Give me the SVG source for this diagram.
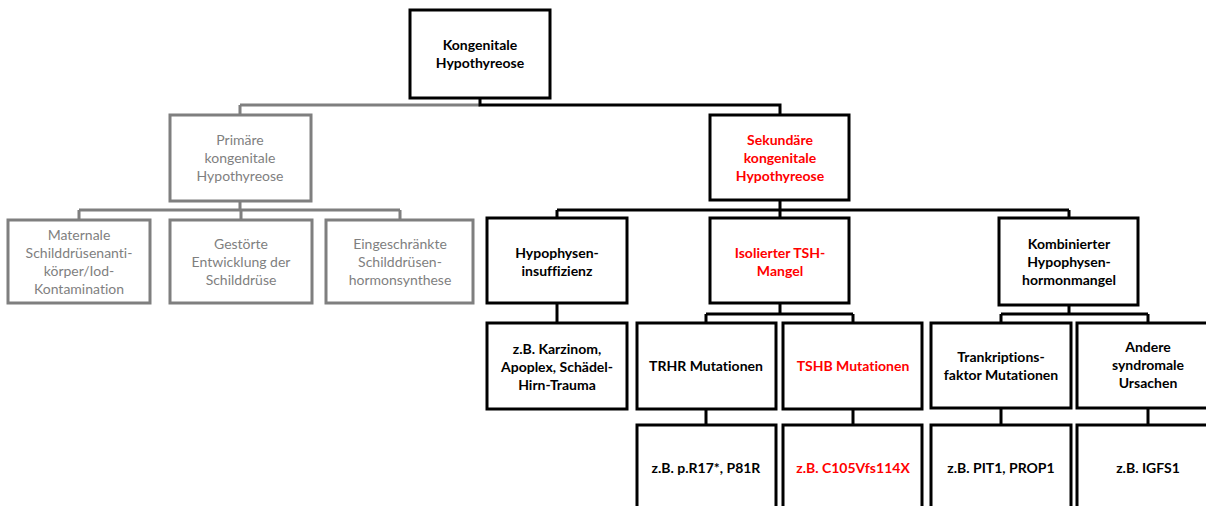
<svg xmlns="http://www.w3.org/2000/svg" width="1206" height="506" viewBox="0 0 1206 506">
  <style>
    .box { fill: #ffffff; stroke: #000000; stroke-width: 3; }
    .box.grey { stroke: #7f7f7f; }
    .lbl { font-family: Lato, "Liberation Sans", sans-serif; font-size: 14px; font-weight: bold; fill: #000000; text-anchor: middle; font-variant-ligatures: none; }
    .lbl.grey { font-weight: normal; fill: #7f7f7f; }
    .lbl.red { fill: #ff0000; }
    .wire { fill: none; stroke: #000000; stroke-width: 3; }
    .wire.grey { stroke: #7f7f7f; }
  </style>
  <rect width="1206" height="506" fill="#ffffff"/>

  <!-- connectors -->
  <g id="connectors">
    <path class="wire grey" d="M240,105 H480 M240,105 V115"/>
    <path class="wire" d="M480,98 V105 H780 V115"/>
    <path class="wire grey" d="M240,201 V210 M79,210 H400 M79,210 V220 M241,210 V220 M400,210 V220"/>
    <path class="wire" d="M780,200 V218 M557,210 H1069 M557,210 V218 M1069,210 V218"/>
    <path class="wire" d="M557,303 V323"/>
    <path class="wire" d="M780,303 V314 M706,314 H853 M706,314 V323 M853,314 V323"/>
    <path class="wire" d="M1069,305 V314 M1001,314 H1148 M1001,314 V323 M1148,314 V323"/>
    <path class="wire" d="M706,409 V425 M853,409 V425 M1001,408 V425 M1148,408 V425"/>
  </g>

  <g id="n-root">
    <rect class="box" x="410" y="10" width="140" height="88"/>
    <text class="lbl" x="480" y="50">Kongenitale</text>
    <text class="lbl" x="480" y="68">Hypothyreose</text>
  </g>

  <g id="n-primaer">
    <rect class="box grey" x="170" y="115" width="141" height="86"/>
    <text class="lbl grey" x="240" y="145">Primäre</text>
    <text class="lbl grey" x="240" y="163">kongenitale</text>
    <text class="lbl grey" x="240" y="181">Hypothyreose</text>
  </g>

  <g id="n-maternal">
    <rect class="box grey" x="8" y="220" width="142" height="83"/>
    <text class="lbl grey" x="79" y="240">Maternale</text>
    <text class="lbl grey" x="79" y="258">Schilddrüsenanti-</text>
    <text class="lbl grey" x="79" y="276">körper/Iod-</text>
    <text class="lbl grey" x="79" y="294">Kontamination</text>
  </g>

  <g id="n-entwicklung">
    <rect class="box grey" x="170" y="220" width="142" height="83"/>
    <text class="lbl grey" x="241" y="249">Gestörte</text>
    <text class="lbl grey" x="241" y="267">Entwicklung der</text>
    <text class="lbl grey" x="241" y="285">Schilddrüse</text>
  </g>

  <g id="n-synthese">
    <rect class="box grey" x="326" y="220" width="147" height="83"/>
    <text class="lbl grey" x="400" y="249">Eingeschränkte</text>
    <text class="lbl grey" x="400" y="267">Schilddrüsen-</text>
    <text class="lbl grey" x="400" y="285">hormonsynthese</text>
  </g>

  <g id="n-sekundaer">
    <rect class="box" x="710" y="115" width="139" height="85"/>
    <text class="lbl red" x="780" y="145">Sekundäre</text>
    <text class="lbl red" x="780" y="163">kongenitale</text>
    <text class="lbl red" x="780" y="181">Hypothyreose</text>
  </g>

  <g id="n-insuffizienz">
    <rect class="box" x="487" y="218" width="140" height="85"/>
    <text class="lbl" x="557" y="258">Hypophysen-</text>
    <text class="lbl" x="557" y="276">insuffizienz</text>
  </g>

  <g id="n-tsh">
    <rect class="box" x="710" y="218" width="139" height="85"/>
    <text class="lbl red" x="780" y="258">Isolierter TSH-</text>
    <text class="lbl red" x="780" y="276">Mangel</text>
  </g>

  <g id="n-kombiniert">
    <rect class="box" x="999" y="218" width="139" height="87"/>
    <text class="lbl" x="1069" y="249">Kombinierter</text>
    <text class="lbl" x="1069" y="267">Hypophysen-</text>
    <text class="lbl" x="1069" y="285">hormonmangel</text>
  </g>

  <g id="n-karzinom">
    <rect class="box" x="487" y="323" width="140" height="86"/>
    <text class="lbl" x="557" y="354">z.B. Karzinom,</text>
    <text class="lbl" x="557" y="372">Apoplex, Schädel-</text>
    <text class="lbl" x="557" y="390">Hirn-Trauma</text>
  </g>

  <g id="n-trhr">
    <rect class="box" x="637" y="323" width="139" height="86"/>
    <text class="lbl" x="706" y="371">TRHR Mutationen</text>
  </g>

  <g id="n-tshb">
    <rect class="box" x="783" y="323" width="139" height="86"/>
    <text class="lbl red" x="853" y="371">TSHB Mutationen</text>
  </g>

  <g id="n-transkription">
    <rect class="box" x="931" y="323" width="140" height="85"/>
    <text class="lbl" x="1001" y="362">Trankriptions-</text>
    <text class="lbl" x="1001" y="380">faktor Mutationen</text>
  </g>

  <g id="n-syndromal">
    <rect class="box" x="1077" y="323" width="142" height="85"/>
    <text class="lbl" x="1148" y="352">Andere</text>
    <text class="lbl" x="1148" y="370">syndromale</text>
    <text class="lbl" x="1148" y="388">Ursachen</text>
  </g>

  <g id="n-trhr-bsp">
    <rect class="box" x="637" y="425" width="139" height="95"/>
    <text class="lbl" x="706" y="473">z.B. p.R17*, P81R</text>
  </g>

  <g id="n-tshb-bsp">
    <rect class="box" x="783" y="425" width="139" height="95"/>
    <text class="lbl red" x="853" y="473">z.B. C105Vfs114X</text>
  </g>

  <g id="n-transkription-bsp">
    <rect class="box" x="931" y="425" width="140" height="95"/>
    <text class="lbl" x="1001" y="473">z.B. PIT1, PROP1</text>
  </g>

  <g id="n-syndromal-bsp">
    <rect class="box" x="1077" y="425" width="142" height="95"/>
    <text class="lbl" x="1148" y="473">z.B. IGFS1</text>
  </g>
</svg>
